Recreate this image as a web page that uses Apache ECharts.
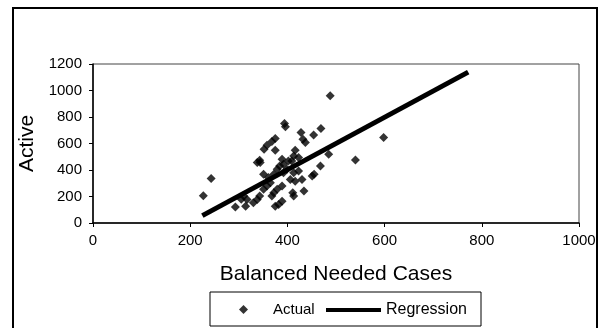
<!DOCTYPE html>
<html>
<head>
<meta charset="utf-8">
<script src="https://cdn.jsdelivr.net/npm/echarts@6/dist/echarts.min.js"></script>
<style>
  html, body { margin: 0; padding: 0; background: #fff; }
  #chart { width: 601px; height: 328px; }
</style>
</head>
<body>
<div id="chart"></div>
<script>
// scatter points
const actualX = [227, 243, 293, 305, 310, 314, 317, 330, 338, 343, 351, 358, 365, 344,
    338, 343, 352, 358, 368, 375, 375, 394, 396, 389, 351, 361, 372, 384, 392, 402,
    379, 392, 399, 413, 423, 406, 416, 430, 372, 368, 379, 389, 375, 382, 389, 411,
    413, 434, 409, 413, 416, 423, 428, 432, 437, 454, 469, 488, 485, 468, 451, 455,
    540, 598];
const actualY = [205, 335, 120, 180, 203, 127, 178, 153, 178, 203, 254, 279, 304, 456,
    456, 473, 557, 587, 615, 637, 549, 751, 726, 481, 367, 343, 367, 430, 443, 468,
    405, 380, 405, 380, 392, 329, 316, 329, 228, 203, 254, 279, 127, 140, 165, 228,
    203, 241, 468, 506, 549, 494, 683, 632, 607, 665, 713, 960, 519, 430, 355, 367,
    476, 645];
// regression line end points
const regX = [225, 772];
const regY = [56, 1139];

const xTicks = [0, 200, 400, 600, 800, 1000];
const yTicks = [0, 200, 400, 600, 800, 1000, 1200];

const chart = echarts.init(document.getElementById('chart'));
const font = 'Liberation Sans, Arial, sans-serif';

const actualData = actualX.map((x, i) => [x, actualY[i]]);
const regData = regX.map((x, i) => [x, regY[i]]);

const option = {
    animation: false,
    backgroundColor: '#fff',
    grid: {
        left: 93, right: 22, top: 64, bottom: 105,
        show: true, borderColor: '#444', borderWidth: 1
    },
    xAxis: {
        type: 'value',
        min: xTicks[0], max: xTicks[xTicks.length - 1], interval: 200,
        name: 'Balanced Needed Cases',
        nameLocation: 'middle', nameGap: 41,
        nameTextStyle: { fontFamily: font, fontSize: 21, color: '#000' },
        axisLine: { lineStyle: { color: '#000', width: 1.5 } },
        axisTick: { show: true, length: 4, lineStyle: { color: '#000' } },
        axisLabel: { fontFamily: font, fontSize: 15, color: '#000', margin: 10,
            formatter: v => String(v) },
        splitLine: { show: false }
    },
    yAxis: {
        type: 'value',
        min: yTicks[0], max: yTicks[yTicks.length - 1], interval: 200,
        name: 'Active',
        nameLocation: 'middle', nameGap: 50,
        nameTextStyle: { fontFamily: font, fontSize: 21, color: '#000' },
        axisLine: { show: true, lineStyle: { color: '#000', width: 1.5 } },
        axisTick: { show: true, length: 4, lineStyle: { color: '#000' } },
        axisLabel: { fontFamily: font, fontSize: 15, color: '#000', margin: 11,
            formatter: v => String(v) },
        splitLine: { show: false }
    },
    legend: [{
        data: [{ name: 'Actual', icon: 'diamond' }],
        left: 234, top: 297,
        itemWidth: 9, itemHeight: 9,
        textStyle: { fontFamily: font, fontSize: 15, color: '#000', padding: [0, 0, 0, 20] }
    }, {
        data: [{ name: 'Regression', icon: 'rect' }],
        left: 321, top: 297,
        itemWidth: 55, itemHeight: 4, itemGap: 0,
        textStyle: { fontFamily: font, fontSize: 16, color: '#000' }
    }],
    graphic: [{
        type: 'rect',
        shape: { x: 13, y: 8, width: 584, height: 340 },
        style: { fill: 'none', stroke: '#000', lineWidth: 2 },
        silent: true
    }, {
        type: 'rect',
        shape: { x: 210, y: 292, width: 271, height: 34 },
        style: { fill: 'none', stroke: '#000', lineWidth: 1 },
        silent: true
    }],
    series: [{
        name: 'Actual',
        type: 'scatter',
        symbol: 'diamond',
        symbolSize: 9,
        itemStyle: { color: '#000' },
        data: actualData
    }, {
        name: 'Regression',
        type: 'line',
        showSymbol: false,
        symbol: 'none',
        lineStyle: { color: '#000', width: 5 },
        itemStyle: { color: '#000' },
        data: regData
    }]
};

chart.setOption(option);
</script>
</body>
</html>
